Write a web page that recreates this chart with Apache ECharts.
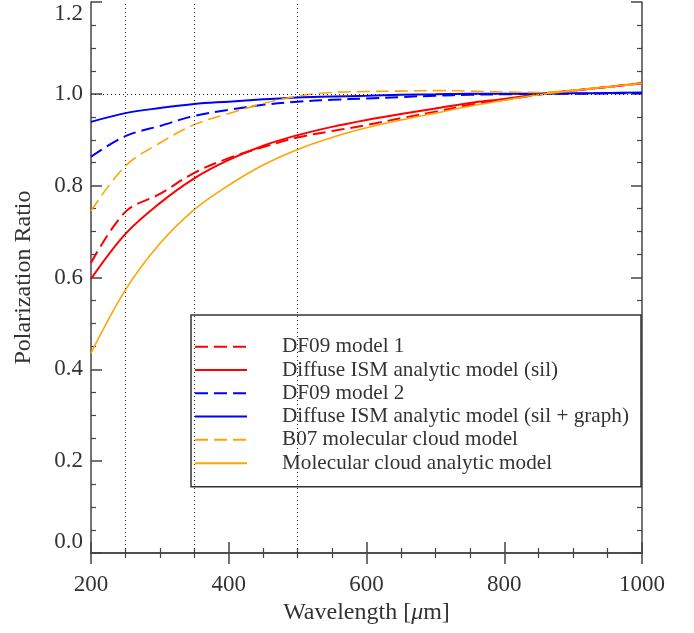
<!DOCTYPE html>
<html>
<head>
<meta charset="utf-8">
<script src="https://cdn.jsdelivr.net/npm/echarts@6/dist/echarts.min.js"></script>
<style>html,body{margin:0;padding:0;background:#fff}#c{width:694px;height:633px}</style>
</head>
<body>
<div id="c"></div>
<script>
var wavelengths   = [200, 250, 300, 350, 400, 450, 500, 550, 600, 650, 700, 750, 800, 850, 900, 950, 1000];
var df09Model1    = [0.632, 0.743, 0.782, 0.828, 0.860, 0.884, 0.905, 0.919, 0.932, 0.947, 0.961, 0.976, 0.987, 0.998, 1.007, 1.015, 1.023];
var diffuseSil    = [0.597, 0.695, 0.762, 0.816, 0.856, 0.887, 0.910, 0.928, 0.943, 0.956, 0.968, 0.980, 0.989, 0.999, 1.007, 1.015, 1.023];
var df09Model2    = [0.863, 0.908, 0.930, 0.952, 0.965, 0.976, 0.983, 0.987, 0.990, 0.993, 0.996, 0.998, 0.999, 1.000, 1.000, 1.001, 1.002];
var diffuseSilGr  = [0.939, 0.958, 0.969, 0.978, 0.983, 0.988, 0.992, 0.994, 0.996, 0.998, 0.999, 1.000, 1.000, 1.000, 1.001, 1.002, 1.003];
var b07Cloud      = [0.745, 0.843, 0.893, 0.933, 0.957, 0.979, 0.995, 1.003, 1.005, 1.006, 1.007, 1.006, 1.004, 1.003, 1.008, 1.015, 1.022];
var cloudAnalytic = [0.435, 0.573, 0.674, 0.748, 0.801, 0.845, 0.879, 0.905, 0.926, 0.943, 0.958, 0.973, 0.986, 0.998, 1.007, 1.015, 1.023];
var seriesNames = ['DF09 model 1', 'Diffuse ISM analytic model (sil)', 'DF09 model 2',
  'Diffuse ISM analytic model (sil + graph)', 'B07 molecular cloud model', 'Molecular cloud analytic model'];
var verticalRefs = [250, 350, 500];
var horizontalRefs = [1.0];

function pairs(vals) { return wavelengths.map(function (w, i) { return [w, vals[i]]; }); }

var dash = [13, 6];
var styles = [
  { data: df09Model1, color: '#ff0000', type: dash, width: 2 },
  { data: diffuseSil, color: '#ff0000', type: 'solid', width: 2 },
  { data: df09Model2, color: '#0000ff', type: dash, width: 2 },
  { data: diffuseSilGr, color: '#0000ff', type: 'solid', width: 2 },
  { data: b07Cloud, color: '#ffa500', type: dash, width: 1.6 },
  { data: cloudAnalytic, color: '#ffa500', type: 'solid', width: 1.6 }
];

var series = styles.map(function (s, i) {
  return {
    name: seriesNames[i], type: 'line', data: pairs(s.data), symbol: 'none',
    smooth: 0.35, z: 3,
    lineStyle: { color: s.color, type: s.type, width: s.width },
    itemStyle: { color: s.color }
  };
});
series.push({
  type: 'line', data: [], silent: true, z: 2,
  markLine: {
    silent: true, symbol: 'none', label: { show: false },
    lineStyle: { color: '#222', type: [1, 3], width: 1 },
    data: verticalRefs.map(function (v) { return { xAxis: v }; })
      .concat(horizontalRefs.map(function (v) { return { yAxis: v }; }))
  }
});

var font = 'Liberation Serif, Times New Roman, serif';
var axisLineStyle = { color: '#444', width: 1.5 };
var chart = echarts.init(document.getElementById('c'));
chart.setOption({
  animation: false,
  backgroundColor: '#fff',
  grid: { left: 91, right: 52, top: 2, bottom: 80, containLabel: false },
  legend: {
    orient: 'vertical', left: 191, top: 315,
    padding: [20, 3, 12, 3], itemGap: 0,
    itemWidth: 52, itemHeight: 14,
    borderColor: '#333', borderWidth: 1.5, backgroundColor: '#fff',
    itemStyle: { opacity: 0 },
    data: seriesNames,
    textStyle: { fontFamily: font, fontSize: 21.2, color: '#333', lineHeight: 23.3, padding: [0, 0, 0, 30], width: 356 }
  },
  xAxis: [{
    type: 'value', min: 200, max: 1000, interval: 200,
    name: 'Wavelength [{i|μ}m]', nameLocation: 'middle', nameGap: 43,
    nameTextStyle: { fontFamily: font, fontSize: 24, color: '#333', rich: { i: { fontFamily: font, fontSize: 24, fontStyle: 'italic', color: '#333' } } },
    axisLine: { show: true, lineStyle: axisLineStyle },
    axisTick: { show: true, inside: true, length: 11, lineStyle: axisLineStyle },
    minorTick: { show: true, splitNumber: 4, length: 5, lineStyle: { color: '#444', width: 1.2 } },
    splitLine: { show: false },
    axisLabel: { fontFamily: font, fontSize: 23, color: '#333', margin: 20,
      formatter: function (v) { return String(v); } }
  }, {
    type: 'value', position: 'top', min: 200, max: 1000, interval: 200,
    axisLine: { show: true, lineStyle: axisLineStyle },
    axisTick: { show: true, inside: true, length: 11, lineStyle: axisLineStyle },
    minorTick: { show: true, splitNumber: 4, length: 5, lineStyle: { color: '#444', width: 1.2 } },
    splitLine: { show: false }, axisLabel: { show: false }
  }],
  yAxis: [{
    type: 'value', min: 0, max: 1.2, interval: 0.2,
    name: 'Polarization Ratio', nameLocation: 'middle', nameGap: 55,
    nameTextStyle: { fontFamily: font, fontSize: 24, color: '#333' },
    axisLine: { show: true, lineStyle: axisLineStyle },
    axisTick: { show: true, inside: true, length: 11, lineStyle: axisLineStyle },
    minorTick: { show: true, splitNumber: 4, length: 5, lineStyle: { color: '#444', width: 1.2 } },
    splitLine: { show: false },
    axisLabel: { fontFamily: font, fontSize: 23, color: '#333', margin: 8,
      verticalAlignMinLabel: 'bottom', verticalAlignMaxLabel: 'top',
      formatter: function (v) { return v.toFixed(1); } }
  }, {
    type: 'value', position: 'right', min: 0, max: 1.2, interval: 0.2,
    axisLine: { show: true, lineStyle: axisLineStyle },
    axisTick: { show: true, inside: true, length: 11, lineStyle: axisLineStyle },
    minorTick: { show: true, splitNumber: 4, length: 5, lineStyle: { color: '#444', width: 1.2 } },
    splitLine: { show: false }, axisLabel: { show: false }
  }],
  series: series
});
</script>
</body>
</html>
